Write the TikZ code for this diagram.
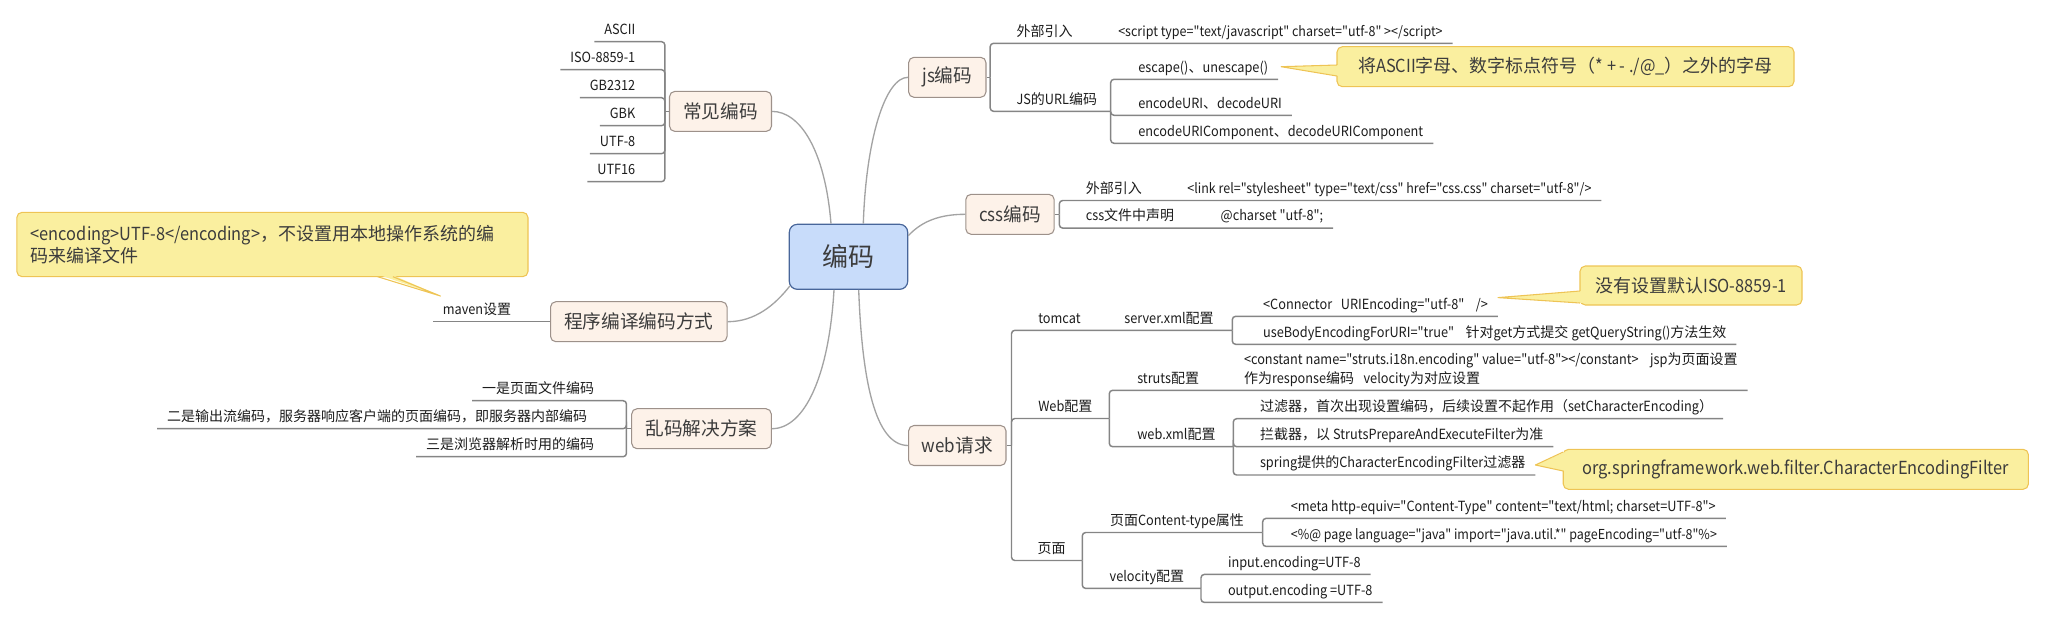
\documentclass[tikz,border=0pt]{standalone}
\usepackage{fontspec}
\setmainfont{Noto Sans CJK SC}[FakeStretch=0.91, Ligatures=TeXOff]
\newfontfamily\cjkfont{Noto Sans CJK SC}[Ligatures=TeXOff]
\XeTeXinterchartokenstate=1
\newXeTeXintercharclass\cjkcls
\newcount\cjkc
\cjkc="3000 \loop\ifnum\cjkc<"3040 \XeTeXcharclass\cjkc=\cjkcls \advance\cjkc by 1 \repeat
\cjkc="4E00 \loop\ifnum\cjkc<"A000 \XeTeXcharclass\cjkc=\cjkcls \advance\cjkc by 1 \repeat
\cjkc="FF00 \loop\ifnum\cjkc<"FFF0 \XeTeXcharclass\cjkc=\cjkcls \advance\cjkc by 1 \repeat
\XeTeXinterchartoks 0 \cjkcls = {\cjkfont}
\XeTeXinterchartoks 4095 \cjkcls = {\cjkfont}
\XeTeXinterchartoks \cjkcls 0 = {\rmfamily}
\XeTeXinterchartoks 4095 0 = {\rmfamily}
\usetikzlibrary{calc}
\definecolor{linegray}{HTML}{858585}
\definecolor{curvegray}{HTML}{A3A3A3}
\definecolor{topicfill}{HTML}{FDF2E9}
\definecolor{topicdraw}{HTML}{9D918A}
\definecolor{rootfill}{HTML}{C8DCFA}
\definecolor{rootdraw}{HTML}{48669A}
\definecolor{notefill}{HTML}{FAEF9F}
\definecolor{notedraw}{HTML}{EEC455}
\definecolor{toptext}{HTML}{3C3C3C}
\definecolor{leaftext}{HTML}{1C1C1C}
\begin{document}
\begin{tikzpicture}[x=0.75pt,y=-0.75pt,
  root/.style={draw=rootdraw, fill=rootfill, rounded corners=6pt, line width=0.9pt, text=toptext,
    font=\fontsize{19.5pt}{23pt}\selectfont, minimum width=88.8pt, minimum height=48.75pt, inner sep=0pt},
  topic/.style={draw=topicdraw, fill=topicfill, rounded corners=4pt, line width=0.8pt, text=toptext,
    font=\fontsize{14pt}{17pt}\selectfont, minimum height=30pt, inner sep=0pt},
  leafR/.style={anchor=south west, inner xsep=7.5pt, inner ysep=5.4pt, text depth=0pt, outer sep=0pt,
    text=leaftext, font=\fontsize{10.5pt}{13.8pt}\selectfont},
  leafL/.style={leafR, anchor=south east},
  codeS/.style={font=\fontsize{10.3pt}{13pt}\selectfont},
  conn/.style={draw=linegray, line width=1.1pt, rounded corners=2.5pt},
  curv/.style={draw=curvegray, line width=1pt},
  note/.style={draw=notedraw, fill=notefill, rounded corners=4pt, line width=0.8pt, text=toptext,
    font=\fontsize{13.5pt}{16.7pt}\selectfont, inner sep=0pt},
  notefillonly/.style={fill=notefill},
  noteedge/.style={draw=notedraw, line width=0.8pt, line join=round}
]
\useasboundingbox (0,0) rectangle (2045,618);

% ---------------- root and main topics
\node[root] (root) at (848.5,256.8) {编码};
\node[topic, minimum width=76.5pt] (cjbm) at (720.5,111.4) {常见编码};
\node[topic, minimum width=58pt] (js) at (947.3,77.3) {js编码};
\node[topic, minimum width=66.3pt] (css) at (1010,214.3) {css编码};
\node[topic, minimum width=132.4pt] (cx) at (638.8,321.7) {程序编译编码方式};
\node[topic, minimum width=104.7pt] (lm) at (701.5,428.7) {乱码解决方案};
\node[topic, minimum width=73pt] (web) at (957.3,445.5) {web请求};

% ---------------- curves from root
\draw[curv] ($(root.north)+(-17.5,0)$) .. controls (825,150) and (800,111.4) .. (cjbm.east);
\draw[curv] ($(root.north)+(14.8,0)$) .. controls (866,140) and (885,77.3) .. (js.west);
\draw[curv] ($(root.north east)+(0,12)$) .. controls (922,221) and (940,214.3) .. (css.west);
\draw[curv] ($(root.south west)+(1.2,-4)$) .. controls (775,305) and (755,321.7) .. (cx.east);
\draw[curv] ($(root.south)+(-14.5,0)$) .. controls (829,375) and (805,428.7) .. (lm.east);
\draw[curv] ($(root.south)+(10.2,0)$) .. controls (862,380) and (875,445.5) .. (web.west);

% ---------------- 常见编码
\node[leafL] (a1) at (645.3,41.7) {ASCII};
\node[leafL] (a2) at (645.3,69.7) {ISO-8859-1};
\node[leafL] (a3) at (645.3,97.7) {GB2312};
\node[leafL] (a4) at (645.3,125.7) {GBK};
\node[leafL] (a5) at (645.3,153.7) {UTF-8};
\node[leafL] (a6) at (645.3,181.7) {UTF16};
\coordinate (jA) at ($(cjbm.west)+(-4.1,0)$);
\draw[conn] (cjbm.west) -- (jA);
\foreach \n in {a1,a2,a3,a4,a5,a6}
  \draw[conn] (jA) |- (\n.south east) -- (\n.south west);

% ---------------- 乱码解决方案
\node[leafL] (b1) at (604,400.7) {一是页面文件编码};
\node[leafL] (b2) at (597,428.7) {二是输出流编码，服务器响应客户端的页面编码，即服务器内部编码};
\node[leafL] (b3) at (604,456.7) {三是浏览器解析时用的编码};
\coordinate (jB) at ($(lm.west)+(-4.7,0)$);
\draw[conn] (lm.west) -- (jB);
\foreach \n in {b1,b2,b3}
  \draw[conn] (jB) |- (\n.south east) -- (\n.south west);

% ---------------- 程序编译编码方式
\node[leafL] (mv) at (521.2,321.7) {maven设置};
\draw[conn] (cx.west) -- (mv.south east) -- (mv.south west);

\node[note, minimum width=383.4pt, minimum height=48.3pt, text width=362.4pt, align=left] (n2) at (272.4,244.5)
  {<encoding>UTF-8</encoding>，不设置用本地操作系统的编\\码来编译文件};
\coordinate (t2) at ($(mv.south west)+(7.6,-25.7)$);
\fill[notefillonly] (t2) -- (378.6,274.7) -- (391.9,274.7) -- cycle;
\draw[noteedge] (377.6,276.7) -- (t2) -- (392.9,276.7);

% ---------------- js编码
\coordinate (jC) at ($(js.east)+(3.7,0)$);
\draw[conn] (js.east) -- (jC);
\node[leafR] (c1) at (1006.5,43.3) {外部引入};
\node[leafR, codeS] (c1a) at (1108.3,43.3) {<script type="text/javascript" charset="utf-8" ></script>};
\node[leafR] (c2) at (1006.5,111.3) {JS的URL编码};
\coordinate (jD) at (1110.7,111.3);
\node[leafR] (c21) at (1128.4,79.3) {escape()、unescape()};
\node[leafR] (c22) at (1128.4,115.3) {encodeURI、decodeURI};
\node[leafR] (c23) at (1128.4,143.3) {encodeURIComponent、decodeURIComponent};
\draw[conn] (jC) |- (c1.south west) -- (c1.south east) -- (c1a.south west) -- (c1a.south east);
\draw[conn] (jC) |- (c2.south west) -- (c2.south east) -- (jD);
\foreach \n in {c21,c22,c23}
  \draw[conn] (jD) |- (\n.south west) -- (\n.south east);

\node[note, minimum width=342.75pt, minimum height=30pt] (n1) at (1565.5,66.7)
  {将ASCII字母、数字标点符号（* + - ./@\_）之外的字母};
\coordinate (t1) at ($(c21.south east)+(3,-12.6)$);
\fill[notefillonly] (t1) -- (1339,76) -- (1339,65) -- cycle;
\draw[noteedge] (1337,65) -- (t1) -- (1337,76);

% ---------------- css编码
\coordinate (jE) at ($(css.east)+(4.6,0)$);
\draw[conn] (css.east) -- (jE);
\node[leafR] (d1) at (1075.8,200.5) {外部引入};
\node[leafR, codeS] (d1a) at (1177.4,200.5) {<link rel="stylesheet" type="text/css" href="css.css" charset="utf-8"/>};
\node[leafR] (d2) at (1075.8,228.1) {css文件中声明};
\node[leafR] (d2a) at (1210.7,228.1) {@charset "utf-8";};
\draw[conn] (jE) |- (d1.south west) -- (d1.south east) -- (d1a.south west) -- (d1a.south east);
\draw[conn] (jE) |- (d2.south west) -- (d2.south east) -- (d2a.south west) -- (d2a.south east);

% ---------------- web请求
\coordinate (jW) at ($(web.east)+(5,0)$);
\draw[conn] (web.east) -- (jW);
% tomcat
\node[leafR] (e0) at (1028.3,330.3) {tomcat};
\node[leafR] (e0a) at (1114.3,330.3) {server.xml配置};
\coordinate (jS) at (1232.3,330.3);
\node[leafR] (e1) at (1253.1,316.3) {<Connector\ \ \ URIEncoding="utf-8"\ \ \ \ />};
\node[leafR] (e2) at (1253.1,344.3) {useBodyEncodingForURI="true"\ \ \ \ 针对get方式提交 getQueryString()方法生效};
\draw[conn] (jW) |- (e0.south west) -- (e0.south east) -- (e0a.south west) -- (e0a.south east) -- (jS);
\foreach \n in {e1,e2}
  \draw[conn] (jS) |- (\n.south west) -- (\n.south east);

\node[note, minimum width=166.5pt, minimum height=29.25pt] (n3) at (1691,285.5) {没有设置默认ISO-8859-1};
\coordinate (t3) at ($(e1.south east)+(0,-18.7)$);
\fill[notefillonly] (t3) -- (1582,291) -- (1582,303) -- cycle;
\draw[noteedge] (1580,291) -- (t3) -- (1580,303);

% Web配置
\node[leafR] (f0) at (1028.3,418.5) {Web配置};
\coordinate (jF) at (1109.3,418.5);
\node[leafR] (f1) at (1127.3,390.3) {struts配置};
\node[leafR, align=left] (f1a) at (1234,390.3)
  {<constant\ name="struts.i18n.encoding"\ value="utf-8"></constant>\ \ \ \ jsp为页面设置\\作为response编码\ \ \ velocity为对应设置};
\node[leafR] (f2) at (1127.3,446.7) {web.xml配置};
\coordinate (jG) at (1233.3,446.7);
\node[leafR] (g1) at (1250,418.7) {过滤器，首次出现设置编码，后续设置不起作用（setCharacterEncoding）};
\node[leafR] (g2) at (1250,446.7) {拦截器，以 StrutsPrepareAndExecuteFilter为准};
\node[leafR] (g3) at (1250,475) {spring提供的CharacterEncodingFilter过滤器};
\draw[conn] (jW) |- (f0.south west) -- (f0.south east) -- (jF);
\draw[conn] (jF) |- (f1.south west) -- (f1.south east) -- (f1a.south west) -- (f1a.south east);
\draw[conn] (jF) |- (f2.south west) -- (f2.south east) -- (jG);
\foreach \n in {g1,g2,g3}
  \draw[conn] (jG) |- (\n.south west) -- (\n.south east);

\node[note, minimum width=348.9pt, minimum height=30pt] (n4) at (1795.8,469.3)
  {org.springframework.web.filter.CharacterEncodingFilter};
\coordinate (t4) at ($(g3.south east)+(0,-10)$);
\fill[notefillonly] (t4) -- (1565.2,452) -- (1565.2,471) -- cycle;
\draw[noteedge] (1563.2,452) -- (t4) -- (1563.2,471);

% 页面
\node[leafR] (h0) at (1027.7,560.5) {页面};
\coordinate (jH) at (1082.3,560.5);
\node[leafR] (h1) at (1100,532.5) {页面Content-type属性};
\coordinate (jI) at (1262.7,532.5);
\node[leafR] (i1) at (1280.8,518.4) {<meta http-equiv="Content-Type" content="text/html; charset=UTF-8">};
\node[leafR, font=\fontsize{10.3pt}{13pt}\selectfont] (i2) at (1280.8,546.4) {<\%@ page language="java" import="java.util.*" pageEncoding="utf-8"\%>};
\node[leafR] (h2) at (1099.7,588.4) {velocity配置};
\coordinate (jJ) at (1201,588.4);
\node[leafR] (k1) at (1218,574.4) {input.encoding=UTF-8};
\node[leafR] (k2) at (1218,602.4) {output.encoding =UTF-8};
\draw[conn] (jW) |- (h0.south west) -- (h0.south east) -- (jH);
\draw[conn] (jH) |- (h1.south west) -- (h1.south east) -- (jI);
\draw[conn] (jH) |- (h2.south west) -- (h2.south east) -- (jJ);
\foreach \n in {i1,i2}
  \draw[conn] (jI) |- (\n.south west) -- (\n.south east);
\foreach \n in {k1,k2}
  \draw[conn] (jJ) |- (\n.south west) -- (\n.south east);
\end{tikzpicture}
\end{document}
